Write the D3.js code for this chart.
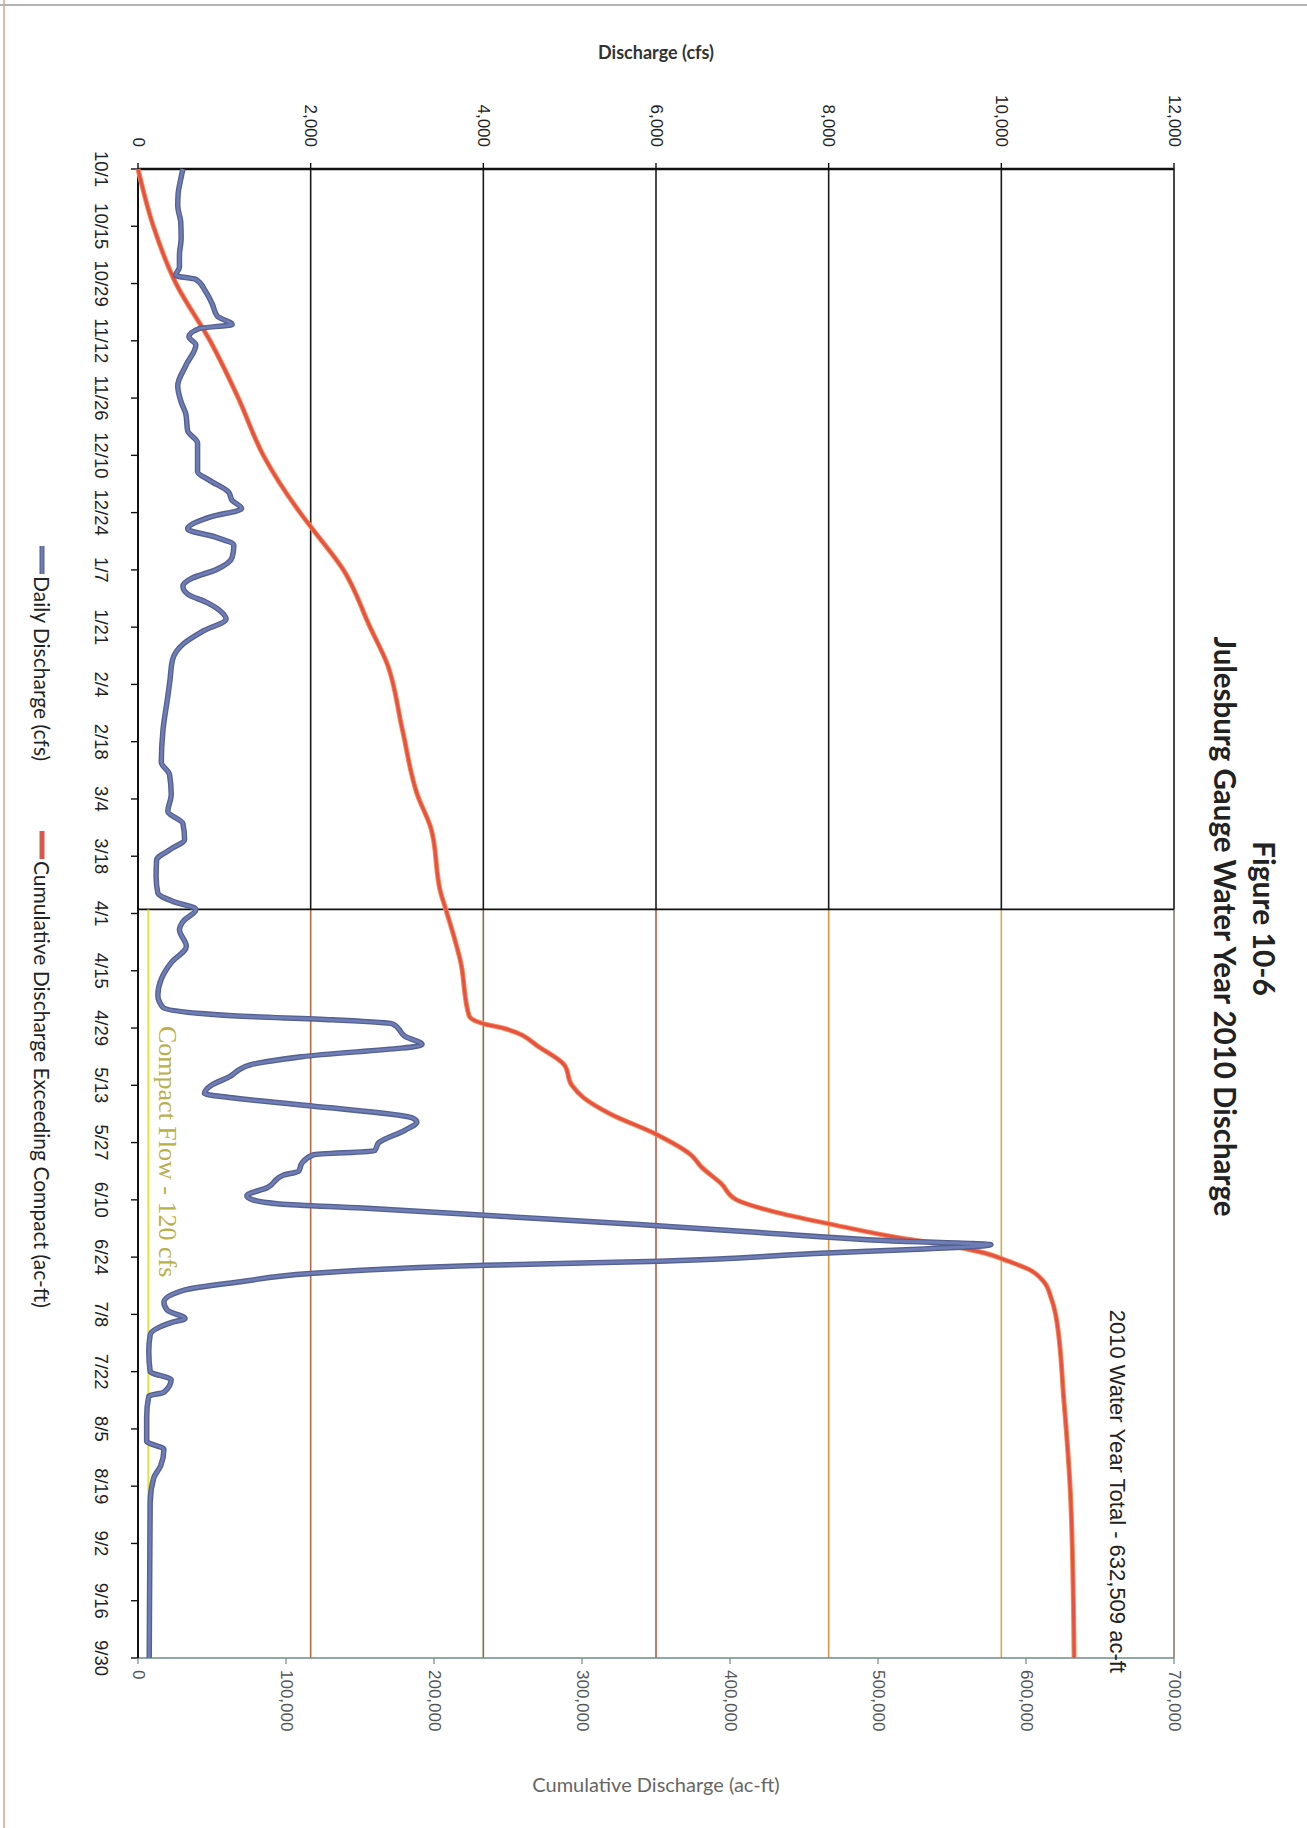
<!DOCTYPE html>
<html>
<head>
<meta charset="utf-8">
<title>Julesburg Gauge Water Year 2010 Discharge</title>
<script src="https://cdn.jsdelivr.net/npm/d3@7"></script>
<style>
  html, body { margin: 0; padding: 0; background: #fff; }
  svg { display: block; }
  .narrow { font-family: Lato, "DejaVu Sans Condensed", sans-serif; }
  .sans { font-family: "Liberation Sans", Arial, sans-serif; }
  .serif { font-family: "Liberation Serif", "Times New Roman", serif; }
</style>
</head>
<body>
<svg id="chart" width="1307" height="1828"></svg>
<script>
// ---- Water year 2010 (Oct 1 2009 – Sep 30 2010) ----
const waterYearStart = "10/1";
const waterYearEnd = "9/30";
const compactStart = "3/31";          // compact accounting period begins
const compactFlowCfs = 120;
const waterYearTotal = 632509;

// axis ticks
const dateTicks = ["10/1","10/15","10/29","11/12","11/26","12/10","12/24","1/7","1/21","2/4","2/18","3/4","3/18",
                   "4/1","4/15","4/29","5/13","5/27","6/10","6/24","7/8","7/22","8/5","8/19","9/2","9/16","9/30"];
const dischargeTicks = [0, 2000, 4000, 6000, 8000, 10000, 12000];
const cumulativeTicks = [0, 100000, 200000, 300000, 400000, 500000, 600000, 700000];

// daily discharge at the gauge (cfs)
const dischargeDates = [
  "10/1","10/4","10/7","10/10","10/14","10/18","10/22","10/25","10/27","10/28","10/31",
  "11/3","11/6","11/8","11/9","11/11","11/13","11/18","11/23","11/27","11/30",
  "12/4","12/7","12/14","12/16","12/19","12/21","12/23","12/25","12/28","12/30",
  "1/1","1/4","1/7","1/9","1/11","1/13","1/15","1/17","1/19","1/22","1/25","1/29",
  "2/3","2/7","2/15","2/23","2/26","3/3","3/7","3/10","3/14","3/16","3/19","3/23","3/27","3/29","3/31",
  "4/3","4/5","4/9","4/13","4/17","4/21","4/24","4/26","4/27","4/28","4/29",
  "5/1","5/3","5/6","5/8","5/11","5/13","5/15","5/16","5/18","5/21","5/22","5/24","5/27","5/29","5/30",
  "6/1","6/3","6/4","6/7","6/9","6/10","6/11","6/12","6/14","6/16","6/18","6/20","6/21","6/22","6/23","6/25","6/26","6/28","6/30",
  "7/2","7/5","7/7","7/9","7/10","7/13","7/17","7/22","7/24","7/27","7/28",
  "8/2","8/8","8/10","8/14","8/17","8/23","9/11","9/30"
];
const dischargeCfs = [
  520,490,465,460,495,500,480,480,435,670,785,
  860,920,1090,710,590,670,555,460,500,555,
  575,690,690,820,1050,1090,1200,850,575,900,
  1110,1090,900,630,520,580,800,950,1020,750,530,400,
  370,345,290,270,365,385,345,520,540,400,215,210,230,400,670,
  520,480,560,385,270,230,290,1100,2250,2950,3010,
  3090,3290,1900,1300,1050,850,770,1060,1990,3180,3230,3090,2790,2740,2030,
  1900,1860,1680,1500,1260,1330,1640,2600,4200,5800,7200,8700,9880,9110,7980,6040,4020,2000,1190,
  545,300,340,545,384,141,125,141,384,303,125,
  100,100,300,263,182,141,135,130
];

// cumulative discharge exceeding the compact (ac-ft)
const cumulativeDates = [
  "10/1","10/15","10/29","11/12","11/26","12/10","12/24","12/28","1/7","1/21","1/30",
  "2/15","3/3","3/11","3/27","3/31","4/13","4/26","4/28","4/29",
  "5/4","5/8","5/13","5/16","5/20","5/25","5/30","6/2","6/6","6/10","6/13","6/16","6/19",
  "6/21","6/22","6/23","6/25","6/27","6/30","7/4","7/8","7/29","8/23","9/30"
];
const cumulativeAcft = [
  0,10400,25700,48700,67800,84700,109500,117900,138800,156800,168400,
  178600,188800,197800,204600,208000,218100,223700,233900,246400,
  272400,288000,293200,301000,319100,350300,373600,380800,394000,404500,430700,468700,510000,
  545000,560000,572000,588000,602000,612000,617000,620000,625600,630300,632509
];

// gridline tint below the compact marker (printer colour drift)
const gridLowerColors = ["#b8664a", "#8c6a44", "#b45a46", "#d4964a", "#d6a84c"];

// ---- helpers ----
const parseMD = s => {
  const [m, d] = s.split("/").map(Number);
  return new Date(m >= 10 ? 2009 : 2010, m - 1, d);
};

// The chart is laid out in an unrotated frame (1828 wide x 1307 tall)
// and turned 90° clockwise onto the portrait page.
const W = 1828, H = 1307;
const svg = d3.select("#chart");
svg.append("rect").attr("width", 1307).attr("height", 1828).attr("fill", "#fff");

// page edge marks
svg.append("line").attr("x1", 0).attr("x2", 1307).attr("y1", 5).attr("y2", 5)
  .attr("stroke", "#9a9a9a").attr("stroke-width", 1.5);
svg.append("line").attr("x1", 4).attr("x2", 4).attr("y1", 0).attr("y2", 1828)
  .attr("stroke", "#e0a090").attr("stroke-width", 1.5);

const g = svg.append("g").attr("transform", `translate(${H},0) rotate(90)`);

const x = d3.scaleTime()
  .domain([parseMD(waterYearStart), parseMD(waterYearEnd)])
  .range([169, 1658]);
const y = d3.scaleLinear().domain([0, 12000]).range([H - 138, H - 1174]);
const y2 = d3.scaleLinear().domain([0, 700000]).range([H - 138, H - 1174]);

const xCompact = x(parseMD(compactStart));

// gridlines
dischargeTicks.filter(t => t > 0 && t < 12000).forEach((t, i) => {
  g.append("line").attr("x1", x.range()[0]).attr("x2", xCompact)
    .attr("y1", y(t)).attr("y2", y(t)).attr("stroke", "#1a1a1a").attr("stroke-width", 1.6);
  g.append("line").attr("x1", xCompact).attr("x2", x.range()[1])
    .attr("y1", y(t)).attr("y2", y(t)).attr("stroke", gridLowerColors[i]).attr("stroke-width", 1.6);
});

// plot frame
g.append("line").attr("x1", x.range()[0]).attr("x2", xCompact)
  .attr("y1", y(12000)).attr("y2", y(12000)).attr("stroke", "#1a1a1a").attr("stroke-width", 1.6);
g.append("line").attr("x1", xCompact).attr("x2", x.range()[1])
  .attr("y1", y(12000)).attr("y2", y(12000)).attr("stroke", "#8a7a6a").attr("stroke-width", 1.6);
g.append("line").attr("x1", x.range()[1]).attr("x2", x.range()[1])
  .attr("y1", y(0)).attr("y2", y(12000)).attr("stroke", "#6f8a88").attr("stroke-width", 1.6);
g.append("line").attr("x1", x.range()[0]).attr("x2", x.range()[0])
  .attr("y1", y(0)).attr("y2", y(12000)).attr("stroke", "#111").attr("stroke-width", 2.4);

// discharge axis (top of page)
dischargeTicks.forEach(t => {
  g.append("line").attr("x1", x.range()[0] - 6).attr("x2", x.range()[0])
    .attr("y1", y(t)).attr("y2", y(t)).attr("stroke", "#111").attr("stroke-width", 1.4);
  g.append("text").attr("class", "sans").attr("x", x.range()[0] - 22).attr("y", y(t))
    .attr("text-anchor", "end").attr("dominant-baseline", "central")
    .attr("font-size", 17).attr("fill", "#222").text(d3.format(",")(t));
});
g.append("text").attr("class", "narrow")
  .attr("transform", `translate(59,${(y(0) + y(12000)) / 2}) rotate(-90)`)
  .attr("text-anchor", "middle").attr("font-size", 18).attr("font-weight", "bold")
  .attr("fill", "#333").text("Discharge (cfs)");

// date axis (left of page)
g.append("line").attr("x1", x.range()[0]).attr("x2", x.range()[1])
  .attr("y1", y(0)).attr("y2", y(0)).attr("stroke", "#111").attr("stroke-width", 2);
dateTicks.forEach(s => {
  const xv = x(parseMD(s));
  g.append("line").attr("x1", xv).attr("x2", xv).attr("y1", y(0)).attr("y2", y(0) + 7)
    .attr("stroke", "#111").attr("stroke-width", 1.4);
  g.append("text").attr("class", "sans").attr("x", xv).attr("y", H - 101)
    .attr("text-anchor", "middle").attr("dominant-baseline", "central")
    .attr("font-size", 18.5).attr("fill", "#222").text(s);
});

// cumulative axis (bottom of page)
cumulativeTicks.forEach(t => {
  g.append("line").attr("x1", x.range()[1]).attr("x2", x.range()[1] + 6)
    .attr("y1", y2(t)).attr("y2", y2(t)).attr("stroke", "#6f8a88").attr("stroke-width", 1.2);
  g.append("text").attr("class", "sans").attr("x", x.range()[1] + 12).attr("y", y2(t))
    .attr("text-anchor", "start").attr("dominant-baseline", "central")
    .attr("font-size", 17).attr("fill", "#555").text(d3.format(",")(t));
});
g.append("text").attr("class", "narrow")
  .attr("transform", `translate(1792,${(y(0) + y(12000)) / 2}) rotate(-90)`)
  .attr("text-anchor", "middle").attr("font-size", 20)
  .attr("fill", "#666").text("Cumulative Discharge (ac-ft)");

// compact start marker and compact flow line
g.append("line").attr("x1", xCompact).attr("x2", xCompact)
  .attr("y1", y(0)).attr("y2", y(12000)).attr("stroke", "#111").attr("stroke-width", 1.8);
g.append("line").attr("x1", xCompact).attr("x2", x.range()[1])
  .attr("y1", y(compactFlowCfs)).attr("y2", y(compactFlowCfs))
  .attr("stroke", "#e4e03c").attr("stroke-width", 2);
g.append("text").attr("class", "serif").attr("x", 1026).attr("y", y(compactFlowCfs) - 19)
  .attr("dominant-baseline", "central").attr("font-size", 26).attr("fill", "#b9b04a")
  .text(`Compact Flow - ${compactFlowCfs} cfs`);

// series
const cumulative = cumulativeDates.map((d, i) => ({ date: parseMD(d), v: cumulativeAcft[i] }));
const daily = dischargeDates.map((d, i) => ({ date: parseMD(d), v: dischargeCfs[i] }));

const cumLine = d3.line().x(d => x(d.date)).y(d => y2(d.v)).curve(d3.curveMonotoneX);
const dayLine = d3.line().x(d => x(d.date)).y(d => y(d.v)).curve(d3.curveMonotoneX);

g.append("path").datum(cumulative).attr("d", cumLine).attr("fill", "none")
  .attr("stroke", "#f08a5a").attr("stroke-width", 5).attr("stroke-linejoin", "round");
g.append("path").datum(cumulative).attr("d", cumLine).attr("fill", "none")
  .attr("stroke", "#e8503f").attr("stroke-width", 3).attr("stroke-linejoin", "round");

g.append("path").datum(daily).attr("d", dayLine).attr("fill", "none")
  .attr("stroke", "#55618f").attr("stroke-width", 5.5).attr("stroke-linejoin", "round");
g.append("path").datum(daily).attr("d", dayLine).attr("fill", "none")
  .attr("stroke", "#6e7db6").attr("stroke-width", 2.8).attr("stroke-linejoin", "round");

// annotation
g.append("text").attr("class", "sans").attr("x", 1673).attr("y", H - 1117)
  .attr("text-anchor", "end").attr("dominant-baseline", "central")
  .attr("font-size", 22).attr("fill", "#222")
  .text(`2010 Water Year Total - ${d3.format(",")(waterYearTotal)} ac-ft`);

// titles
const cx = (x.range()[0] + x.range()[1]) / 2 + 5;
g.append("text").attr("class", "narrow").attr("x", cx).attr("y", 54)
  .attr("text-anchor", "middle").attr("font-size", 30).attr("font-weight", "bold")
  .attr("fill", "#222").text("Figure 10-6");
g.append("text").attr("class", "narrow").attr("x", cx + 8).attr("y", 93)
  .attr("text-anchor", "middle").attr("font-size", 29.5).attr("font-weight", "bold")
  .attr("fill", "#222").text("Julesburg Gauge Water Year 2010 Discharge");

// legend
const legendY = H - 42;
const legend = [
  { label: "Daily Discharge (cfs)", color: "#6e7db6", edge: "#55618f", x: 546 },
  { label: "Cumulative Discharge Exceeding Compact (ac-ft)", color: "#e8503f", edge: "#c0605a", x: 831 }
];
legend.forEach(l => {
  g.append("line").attr("x1", l.x).attr("x2", l.x + 28).attr("y1", legendY).attr("y2", legendY)
    .attr("stroke", l.edge).attr("stroke-width", 5);
  g.append("line").attr("x1", l.x).attr("x2", l.x + 28).attr("y1", legendY).attr("y2", legendY)
    .attr("stroke", l.color).attr("stroke-width", 2.6);
  g.append("text").attr("class", "narrow").attr("x", l.x + 30).attr("y", legendY)
    .attr("dominant-baseline", "central").attr("font-size", 21).attr("fill", "#222").text(l.label);
});
</script>
</body>
</html>
